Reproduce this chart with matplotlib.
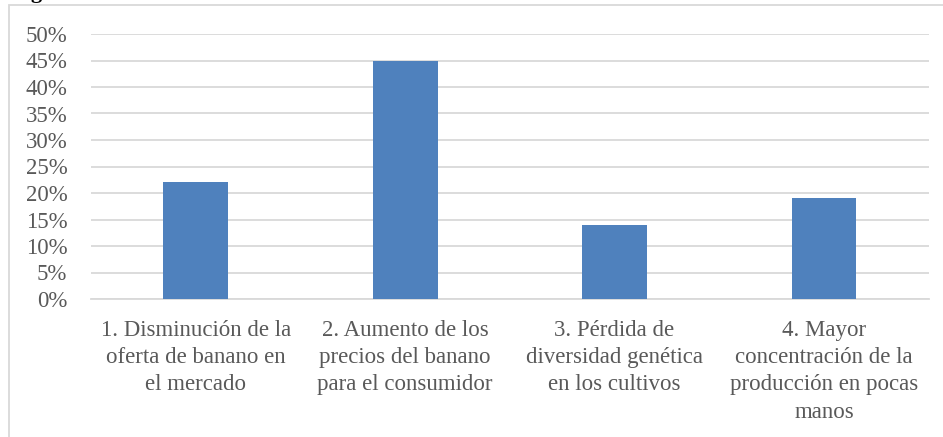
import numpy as np
import matplotlib.pyplot as plt
import matplotlib
from matplotlib.patches import Rectangle
from matplotlib.ticker import FuncFormatter

matplotlib.rcParams['font.family'] = 'Liberation Serif'

categories = ["1. Disminución de la\noferta de banano en\nel mercado",
              "2. Aumento de los\nprecios del banano\npara el consumidor",
              "3. Pérdida de\ndiversidad genética\nen los cultivos",
              "4. Mayor\nconcentración de la\nproducción en pocas\nmanos"]
values = [0.22, 0.45, 0.14, 0.19]
yticks = np.arange(0, 0.51, 0.05)

W, H = 943, 437
fig = plt.figure(figsize=(W / 100, H / 100), dpi=100)
ax = fig.add_axes([91 / W, 1 - 299 / H, (928.7 - 91) / W, (299 - 34) / H])

x = np.arange(len(categories))
ax.bar(x, values, width=0.31, color="#4F81BD", zorder=3)
ax.set_xlim(-0.5, len(categories) - 0.5)
ax.set_ylim(0, 0.5)
ax.set_yticks(yticks)
ax.yaxis.set_major_formatter(FuncFormatter(lambda v, p: f"{v * 100:.0f}%"))
ax.set_xticks(x)
ax.set_xticklabels(categories, linespacing=1.39)

ax.grid(axis='y', color="#D9D9D9", linewidth=1.3, zorder=0)
ax.set_axisbelow(True)
for s in ['top', 'right', 'left']:
    ax.spines[s].set_visible(False)
ax.spines['bottom'].set_color("#D9D9D9")
ax.spines['bottom'].set_linewidth(1.3)
ax.tick_params(axis='both', length=0, labelsize=16.5, labelcolor="#595959")
ax.tick_params(axis='y', pad=17)
ax.tick_params(axis='x', pad=15)

# chart frame
fig.patches.append(Rectangle((9 / W, -0.1), 1.2, 1 - 5 / H + 0.1,
                             transform=fig.transFigure, fill=False,
                             edgecolor="#D9D9D9", linewidth=1.3))
# caption cut off at the top of the picture
fig.text(12 / W, 1 + 2 / H, "Figura", fontsize=16, fontweight='bold',
         va='baseline', ha='left')

fig.savefig("out.png", dpi=100)
